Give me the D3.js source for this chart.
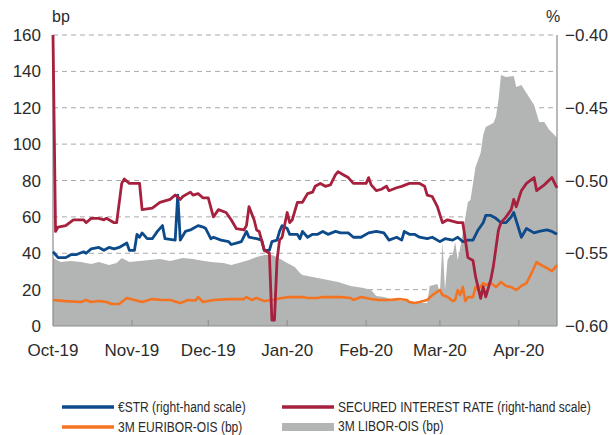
<!DOCTYPE html>
<html>
<head>
<meta charset="utf-8">
<script src="https://cdn.jsdelivr.net/npm/d3@7"></script>
<style>
  body { margin: 0; background: #fff; }
  svg { display: block; }
</style>
</head>
<body>
<div id="chart"></div>
<script>
// series: [date, value]
var estr = [["2019-10-01",-0.549],["2019-10-03",-0.553],["2019-10-06",-0.553],["2019-10-08",-0.551],["2019-10-10",-0.551],["2019-10-13",-0.549],["2019-10-14",-0.550],["2019-10-16",-0.547],["2019-10-19",-0.546],["2019-10-21",-0.548],["2019-10-23",-0.546],["2019-10-25",-0.547],["2019-10-27",-0.546],["2019-10-30",-0.543],["2019-10-31",-0.548],["2019-11-02",-0.548],["2019-11-03",-0.537],["2019-11-04",-0.539],["2019-11-05",-0.536],["2019-11-07",-0.540],["2019-11-09",-0.540],["2019-11-11",-0.535],["2019-11-13",-0.531],["2019-11-14",-0.540],["2019-11-18",-0.541],["2019-11-19",-0.510],["2019-11-20",-0.541],["2019-11-22",-0.535],["2019-11-24",-0.534],["2019-11-25",-0.533],["2019-11-27",-0.531],["2019-11-29",-0.532],["2019-11-30",-0.533],["2019-12-02",-0.540],["2019-12-03",-0.539],["2019-12-06",-0.541],["2019-12-09",-0.542],["2019-12-10",-0.544],["2019-12-12",-0.543],["2019-12-14",-0.542],["2019-12-16",-0.535],["2019-12-17",-0.539],["2019-12-20",-0.540],["2019-12-22",-0.541],["2019-12-23",-0.548],["2019-12-25",-0.548],["2019-12-26",-0.542],["2019-12-28",-0.541],["2019-12-29",-0.535],["2019-12-30",-0.531],["2020-01-01",-0.533],["2020-01-02",-0.537],["2020-01-05",-0.537],["2020-01-06",-0.540],["2020-01-07",-0.535],["2020-01-09",-0.539],["2020-01-11",-0.537],["2020-01-13",-0.537],["2020-01-15",-0.535],["2020-01-17",-0.537],["2020-01-20",-0.535],["2020-01-22",-0.536],["2020-01-25",-0.536],["2020-01-27",-0.539],["2020-01-30",-0.539],["2020-02-02",-0.536],["2020-02-05",-0.535],["2020-02-08",-0.536],["2020-02-10",-0.541],["2020-02-13",-0.539],["2020-02-15",-0.541],["2020-02-16",-0.535],["2020-02-18",-0.537],["2020-02-20",-0.537],["2020-02-22",-0.539],["2020-02-25",-0.540],["2020-02-27",-0.539],["2020-03-01",-0.542],["2020-03-03",-0.540],["2020-03-06",-0.541],["2020-03-08",-0.539],["2020-03-10",-0.542],["2020-03-12",-0.541],["2020-03-14",-0.541],["2020-03-16",-0.534],["2020-03-18",-0.529],["2020-03-19",-0.524],["2020-03-21",-0.524],["2020-03-23",-0.526],["2020-03-25",-0.529],["2020-03-27",-0.529],["2020-03-29",-0.525],["2020-03-30",-0.522],["2020-04-02",-0.539],["2020-04-04",-0.533],["2020-04-07",-0.536],["2020-04-09",-0.535],["2020-04-12",-0.534],["2020-04-14",-0.535],["2020-04-16",-0.537]];

var securedRate = [["2019-10-01",-0.400],["2019-10-02",-0.535],["2019-10-03",-0.532],["2019-10-06",-0.531],["2019-10-09",-0.527],["2019-10-13",-0.527],["2019-10-14",-0.529],["2019-10-16",-0.526],["2019-10-19",-0.526],["2019-10-21",-0.527],["2019-10-22",-0.526],["2019-10-25",-0.529],["2019-10-26",-0.529],["2019-10-28",-0.502],["2019-10-29",-0.499],["2019-10-31",-0.502],["2019-11-04",-0.502],["2019-11-05",-0.520],["2019-11-09",-0.519],["2019-11-12",-0.515],["2019-11-16",-0.513],["2019-11-18",-0.510],["2019-11-20",-0.513],["2019-11-21",-0.511],["2019-11-24",-0.508],["2019-11-25",-0.510],["2019-11-27",-0.509],["2019-11-29",-0.512],["2019-12-01",-0.512],["2019-12-03",-0.525],["2019-12-05",-0.520],["2019-12-08",-0.522],["2019-12-10",-0.527],["2019-12-12",-0.533],["2019-12-15",-0.534],["2019-12-16",-0.531],["2019-12-17",-0.518],["2019-12-19",-0.527],["2019-12-20",-0.534],["2019-12-21",-0.535],["2019-12-23",-0.548],["2019-12-25",-0.550],["2019-12-26",-0.596],["2019-12-27",-0.596],["2019-12-28",-0.555],["2019-12-29",-0.541],["2019-12-30",-0.539],["2020-01-01",-0.522],["2020-01-02",-0.529],["2020-01-03",-0.527],["2020-01-05",-0.515],["2020-01-07",-0.515],["2020-01-09",-0.509],["2020-01-11",-0.508],["2020-01-12",-0.504],["2020-01-14",-0.502],["2020-01-16",-0.504],["2020-01-18",-0.503],["2020-01-20",-0.496],["2020-01-21",-0.494],["2020-01-23",-0.496],["2020-01-25",-0.498],["2020-01-27",-0.502],["2020-01-30",-0.502],["2020-02-01",-0.502],["2020-02-02",-0.498],["2020-02-03",-0.503],["2020-02-05",-0.507],["2020-02-07",-0.506],["2020-02-09",-0.504],["2020-02-10",-0.507],["2020-02-13",-0.505],["2020-02-15",-0.504],["2020-02-18",-0.502],["2020-02-22",-0.502],["2020-02-24",-0.504],["2020-02-25",-0.510],["2020-02-27",-0.511],["2020-02-29",-0.518],["2020-03-02",-0.529],["2020-03-04",-0.527],["2020-03-08",-0.529],["2020-03-10",-0.529],["2020-03-12",-0.553],["2020-03-14",-0.555],["2020-03-15",-0.566],["2020-03-17",-0.581],["2020-03-18",-0.573],["2020-03-19",-0.580],["2020-03-21",-0.568],["2020-03-22",-0.559],["2020-03-24",-0.534],["2020-03-25",-0.529],["2020-03-27",-0.525],["2020-03-29",-0.520],["2020-03-30",-0.513],["2020-03-31",-0.518],["2020-04-02",-0.507],["2020-04-04",-0.502],["2020-04-07",-0.498],["2020-04-08",-0.507],["2020-04-11",-0.503],["2020-04-14",-0.498],["2020-04-16",-0.505]];

var euriborOis = [["2019-10-01",14.3],["2019-10-06",13.7],["2019-10-12",13.2],["2019-10-14",14.3],["2019-10-16",13.2],["2019-10-19",13.7],["2019-10-22",13.2],["2019-10-24",12.1],["2019-10-27",12.1],["2019-10-30",15.4],["2019-11-02",14.3],["2019-11-05",13.2],["2019-11-09",14.8],["2019-11-13",14.3],["2019-11-16",14.3],["2019-11-20",12.6],["2019-11-23",14.3],["2019-11-26",14.0],["2019-11-27",15.9],["2019-11-29",13.2],["2019-12-03",14.3],["2019-12-09",14.8],["2019-12-15",14.8],["2019-12-16",15.9],["2019-12-18",14.3],["2019-12-20",15.4],["2019-12-23",13.7],["2019-12-26",14.3],["2019-12-30",15.4],["2020-01-02",15.9],["2020-01-07",15.9],["2020-01-09",15.4],["2020-01-13",15.4],["2020-01-15",15.9],["2020-01-22",15.9],["2020-01-26",15.4],["2020-01-27",14.3],["2020-01-30",15.9],["2020-02-03",14.8],["2020-02-06",14.3],["2020-02-10",14.3],["2020-02-14",14.8],["2020-02-17",14.3],["2020-02-18",13.2],["2020-02-20",12.6],["2020-02-22",13.2],["2020-02-25",14.3],["2020-02-27",17.0],["2020-03-01",19.8],["2020-03-02",17.0],["2020-03-04",15.9],["2020-03-06",13.7],["2020-03-07",14.3],["2020-03-08",19.8],["2020-03-09",17.0],["2020-03-10",21.4],["2020-03-11",13.7],["2020-03-12",15.9],["2020-03-14",15.9],["2020-03-15",21.4],["2020-03-16",19.8],["2020-03-18",23.6],["2020-03-19",22.5],["2020-03-21",23.6],["2020-03-23",21.4],["2020-03-25",24.2],["2020-03-27",22.0],["2020-03-29",21.4],["2020-03-31",19.8],["2020-04-02",22.0],["2020-04-04",23.6],["2020-04-06",29.1],["2020-04-08",35.2],["2020-04-09",34.1],["2020-04-12",31.9],["2020-04-14",30.2],["2020-04-16",33.5]];

var liborOis = [["2019-10-01",37.4],["2019-10-04",35.2],["2019-10-08",35.7],["2019-10-12",35.2],["2019-10-16",34.1],["2019-10-19",35.2],["2019-10-23",33.5],["2019-10-26",34.6],["2019-10-28",37.4],["2019-10-31",35.2],["2019-11-04",35.7],["2019-11-08",36.3],["2019-11-12",36.8],["2019-11-16",35.7],["2019-11-21",37.4],["2019-11-25",36.8],["2019-11-27",36.3],["2019-12-02",35.2],["2019-12-07",34.6],["2019-12-10",33.5],["2019-12-13",34.6],["2019-12-17",36.3],["2019-12-20",37.9],["2019-12-23",39.0],["2019-12-26",39.0],["2019-12-28",37.9],["2019-12-30",36.3],["2020-01-01",34.6],["2020-01-04",32.4],["2020-01-06",29.1],["2020-01-07",28.0],["2020-01-13",26.4],["2020-01-17",25.3],["2020-01-21",24.2],["2020-01-26",22.0],["2020-01-31",20.9],["2020-02-03",19.8],["2020-02-05",16.5],["2020-02-08",15.9],["2020-02-12",14.3],["2020-02-17",13.7],["2020-02-22",12.6],["2020-02-25",12.6],["2020-02-26",22.0],["2020-02-29",23.1],["2020-03-01",18.1],["2020-03-02",46.2],["2020-03-03",19.8],["2020-03-04",36.3],["2020-03-05",39.0],["2020-03-06",39.0],["2020-03-07",46.2],["2020-03-08",36.3],["2020-03-09",43.4],["2020-03-10",51.1],["2020-03-11",59.9],["2020-03-12",68.2],["2020-03-13",69.3],["2020-03-15",87.4],["2020-03-17",95.1],["2020-03-18",105.0],["2020-03-19",109.4],["2020-03-22",111.6],["2020-03-23",114.9],["2020-03-24",124.3],["2020-03-25",138.0],["2020-03-27",136.9],["2020-03-30",137.5],["2020-03-31",131.4],["2020-04-02",132.5],["2020-04-04",128.1],["2020-04-07",121.5],["2020-04-09",112.2],["2020-04-11",112.2],["2020-04-13",107.8],["2020-04-15",105.0],["2020-04-16",103.4]];

var leftTicks = [0, 20, 40, 60, 80, 100, 120, 140, 160];
var rightTicks = [-0.60, -0.55, -0.50, -0.45, -0.40];
var monthTicks = ["2019-10-01","2019-11-01","2019-12-01","2020-01-01","2020-02-01","2020-03-01","2020-04-01"];

var width = 614, height = 435;
var parse = d3.timeParse("%Y-%m-%d");

var x = d3.scaleTime()
    .domain([parse("2019-10-01"), parse("2020-04-16")])
    .range([53, 557]);
var yL = d3.scaleLinear().domain([0, 160]).range([326, 35]);
var yR = d3.scaleLinear().domain([-0.60, -0.40]).range([326, 35]);

var svg = d3.select('#chart').append('svg')
    .attr('width', width)
    .attr('height', height);

var tickFont = "Liberation Sans, Arial, sans-serif";

// grid
svg.append('g').selectAll('line')
    .data(leftTicks.slice(1)).enter().append('line')
    .attr('x1', x.range()[0]).attr('x2', x.range()[1])
    .attr('y1', function (d) { return yL(d); })
    .attr('y2', function (d) { return yL(d); })
    .attr('stroke', '#a9a9a9')
    .attr('stroke-width', 1)
    .attr('stroke-dasharray', '5,4');

// libor-ois area
var area = d3.area()
    .x(function (d) { return x(parse(d[0])); })
    .y0(yL(0))
    .y1(function (d) { return yL(d[1]); });

svg.append('path')
    .datum(liborOis)
    .attr('d', area)
    .attr('fill', '#b3b5b5');

// axis lines
svg.append('line')
    .attr('x1', 53).attr('x2', 557).attr('y1', 326).attr('y2', 326)
    .attr('stroke', '#8c8c8c').attr('stroke-width', 1.2);
svg.append('line')
    .attr('x1', 53).attr('x2', 53).attr('y1', 35).attr('y2', 326)
    .attr('stroke', '#8c8c8c').attr('stroke-width', 1.2);
svg.append('line')
    .attr('x1', 557).attr('x2', 557).attr('y1', 35).attr('y2', 326)
    .attr('stroke', '#8c8c8c').attr('stroke-width', 1.2);

svg.append('g').selectAll('line')
    .data(monthTicks.slice(1)).enter().append('line')
    .attr('x1', function (d) { return x(parse(d)); })
    .attr('x2', function (d) { return x(parse(d)); })
    .attr('y1', 326).attr('y2', 320)
    .attr('stroke', '#8c8c8c').attr('stroke-width', 1);

var lineL = d3.line()
    .x(function (d) { return x(parse(d[0])); })
    .y(function (d) { return yL(d[1]); });
var lineR = d3.line()
    .x(function (d) { return x(parse(d[0])); })
    .y(function (d) { return yR(d[1]); });

svg.append('path').datum(euriborOis).attr('d', lineL)
    .attr('fill', 'none').attr('stroke', '#f37321').attr('stroke-width', 2.6)
    .attr('stroke-linejoin', 'round');
svg.append('path').datum(estr).attr('d', lineR)
    .attr('fill', 'none').attr('stroke', '#0d4a8a').attr('stroke-width', 2.8)
    .attr('stroke-linejoin', 'round');
svg.append('path').datum(securedRate).attr('d', lineR)
    .attr('fill', 'none').attr('stroke', '#a6213e').attr('stroke-width', 2.8)
    .attr('stroke-linejoin', 'round');

// tick labels
svg.append('g').selectAll('text')
    .data(leftTicks).enter().append('text')
    .attr('x', 41)
    .attr('y', function (d) { return yL(d) + 6; })
    .attr('text-anchor', 'end')
    .style('font-family', tickFont).style('font-size', '17px').style('fill', '#2b2b2b')
    .text(function (d) { return d; });

svg.append('g').selectAll('text')
    .data(rightTicks).enter().append('text')
    .attr('x', 565)
    .attr('y', function (d) { return yR(d) + 6; })
    .attr('text-anchor', 'start')
    .style('font-family', tickFont).style('font-size', '17px').style('fill', '#2b2b2b')
    .text(function (d) { return d3.format('.2f')(d); });

svg.append('g').selectAll('text')
    .data(monthTicks).enter().append('text')
    .attr('x', function (d) { return x(parse(d)); })
    .attr('y', 356)
    .attr('text-anchor', 'middle')
    .style('font-family', tickFont).style('font-size', '17px').style('fill', '#2b2b2b')
    .text(function (d) { return d3.timeFormat('%b-%y')(parse(d)); });

svg.append('text').attr('x', 52).attr('y', 22)
    .style('font-family', tickFont).style('font-size', '16px').style('fill', '#2b2b2b')
    .text('bp');
svg.append('text').attr('x', 553).attr('y', 22).attr('text-anchor', 'middle')
    .style('font-family', tickFont).style('font-size', '16px').style('fill', '#2b2b2b')
    .text('%');

// legend (condensed look: regular face squeezed horizontally)
var legend = svg.append('g');
function legendText(x0, y0, label) {
    legend.append('text')
        .attr('transform', 'translate(' + x0 + ',' + y0 + ') scale(0.83,1)')
        .style('font-family', tickFont).style('font-size', '14.5px').style('fill', '#2b2b2b')
        .text(label);
}
function legendLine(x0, y0, color, label) {
    legend.append('line').attr('x1', x0).attr('x2', x0 + 52).attr('y1', y0).attr('y2', y0)
        .attr('stroke', color).attr('stroke-width', 3.5);
    legendText(x0 + 56, y0 + 5, label);
}
legendLine(62, 407, '#0d4a8a', '€STR (right-hand scale)');
legendLine(282, 407, '#a6213e', 'SECURED INTEREST RATE (right-hand scale)');
legendLine(62, 427, '#f37321', '3M EURIBOR-OIS (bp)');
legend.append('rect').attr('x', 282).attr('y', 423).attr('width', 52).attr('height', 8)
    .attr('fill', '#b3b5b5');
legendText(338, 431, '3M LIBOR-OIS (bp)');
</script>
</body>
</html>
